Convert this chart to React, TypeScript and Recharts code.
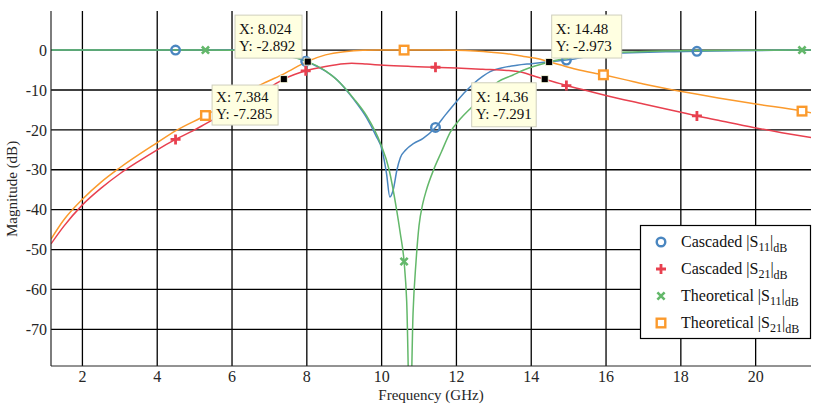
import React from 'react';
import { LineChart, Line, XAxis, YAxis, CartesianGrid, ReferenceDot } from 'recharts';

const FONT = '"Liberation Serif", "Times New Roman", serif';

// ---- axis ticks ----
const xTicks = [2, 4, 6, 8, 10, 12, 14, 16, 18, 20];
const yTicks = [0, -10, -20, -30, -40, -50, -60, -70];

// ---- Cascaded |S11| (dB) ----
const cascS11Freq = [1.16, 4.49, 6, 6.5, 7, 7.5, 7.97, 8.5, 8.8, 9.25, 9.6, 9.85, 10.01, 10.13, 10.22, 10.31, 10.41, 10.5, 10.65, 10.86, 11.1, 11.44, 11.7, 12.01, 12.25, 12.47, 12.7, 12.9, 13.2, 13.62, 14.0, 14.4, 14.94, 15.5, 16, 16.9, 17.6, 18.43, 19.5, 20.5, 21.48];
const cascS11Mag = [0, 0, 0, -0.1, -0.4, -1.3, -2.8, -5.3, -7.4, -12.3, -17, -21.5, -25, -30.9, -36.8, -35, -30, -27, -25, -23.4, -22.2, -19.4, -16.3, -12.8, -10.3, -8.3, -6.6, -5.4, -4.5, -3.8, -3.4, -3.0, -2.5, -1.6, -1.0, -0.6, -0.4, -0.3, -0.15, -0.05, 0];
const cascS11Marks = [4.49, 7.97, 11.44, 14.94, 18.43];

// ---- Cascaded |S21| (dB) ----
const cascS21Freq = [1.16, 1.5, 2, 2.5, 3, 3.5, 4, 4.49, 5, 5.29, 6, 6.5, 6.9, 7.384, 7.97, 8.5, 9, 9.2, 9.6, 10.06, 10.78, 11.44, 12, 12.7, 13.35, 13.8, 14.07, 14.36, 14.77, 14.94, 15.5, 15.97, 17, 18, 18.43, 19, 19.94, 20.7, 21.48];
const cascS21Mag = [-48.6, -44.2, -38.8, -34.6, -31, -27.9, -25, -22.4, -20, -18.5, -14.8, -12.2, -10, -7.285, -5.2, -4.1, -3.4, -3.3, -3.5, -3.8, -4.1, -4.3, -4.5, -4.8, -5.1, -5.7, -6.5, -7.291, -8.4, -8.9, -10.2, -11.3, -13.5, -15.6, -16.5, -17.6, -19.4, -20.7, -21.9];
const cascS21Marks = [4.49, 7.97, 11.44, 14.94, 18.43];

// ---- Theoretical |S11| (dB) ----
const theoS11Freq = [1.16, 5.29, 6, 6.5, 7, 7.57, 8.024, 8.5, 8.81, 9.25, 9.6, 9.97, 10.2, 10.4, 10.5, 10.6, 10.67, 10.76, 10.84, 10.92, 11.0, 11.1, 11.2, 11.39, 11.6, 11.84, 12.1, 12.42, 12.8, 13.1, 13.5, 13.8, 14.1, 14.48, 15.0, 15.4, 15.93, 16.7, 17.5, 18.5, 19.5, 21.24, 21.48];
const theoS11Mag = [0, 0, -0.05, -0.15, -0.5, -1.7, -2.892, -5.2, -7.5, -12.1, -16.5, -23.4, -30, -40, -46, -53, -63, -95, -66, -53, -44, -38.5, -35, -30, -25.5, -20.5, -17.3, -14.2, -10.5, -8.0, -6.3, -5.0, -4.0, -2.973, -2.0, -1.3, -0.8, -0.45, -0.25, -0.12, -0.05, 0, 0];
const theoS11Marks = [5.29, 10.6, 21.24];

// ---- Theoretical |S21| (dB) ----
const theoS21Freq = [1.16, 1.5, 2, 2.5, 3, 4, 4.5, 5.29, 6, 6.85, 7.4, 8.0, 8.5, 9, 9.5, 10, 10.6, 11.5, 12, 12.5, 13, 13.35, 13.8, 14.24, 14.5, 14.77, 15.2, 15.93, 16.5, 17, 18.02, 19, 20, 21.24, 21.48];
const theoS21Mag = [-47.4, -42.6, -37.4, -33.1, -29.5, -23.2, -20.2, -16.4, -12.6, -8.3, -5.9, -2.9, -1.2, -0.4, -0.05, 0, 0, 0, -0.05, -0.25, -0.6, -0.9, -1.6, -2.3, -3.0, -3.7, -4.8, -6.2, -7.4, -8.5, -10.4, -12.0, -13.5, -15.3, -15.7];
const theoS21Marks = [5.29, 10.6, 15.93, 21.24];

// ---- data tips ----
const tipX = [8.024, 7.384, 14.36, 14.48];
const tipY = [-2.892, -7.285, -7.291, -2.973];

// ---- legend labels ----
const legendNames = ['Cascaded', 'Cascaded', 'Theoretical', 'Theoretical'];
const legendSub = ['11', '21', '11', '21'];

const COLORS = { blue: '#4a86c0', red: '#e8404f', green: '#63b86a', orange: '#fb9a2c' };

const toData = (f: number[], v: number[]) => f.map((x, i) => ({ f: x, v: v[i] }));

function Marker({ kind, x, y, color }: { kind: string; x: number; y: number; color: string }) {
  if (kind === 'circle') return <circle cx={x} cy={y} r={4.3} fill="none" stroke={color} strokeWidth={2.4} />;
  if (kind === 'plus') return <path d={`M${x - 5},${y}H${x + 5}M${x},${y - 5}V${y + 5}`} stroke={color} strokeWidth={2.8} fill="none" />;
  if (kind === 'cross') return <path d={`M${x - 3.6},${y - 3.6}L${x + 3.6},${y + 3.6}M${x - 3.6},${y + 3.6}L${x + 3.6},${y - 3.6}`} stroke={color} strokeWidth={2.6} fill="none" />;
  return <rect x={x - 4.3} y={y - 4.3} width={8.6} height={8.6} fill="#fff" stroke={color} strokeWidth={2.4} />;
}

const makeDot = (marks: number[], kind: string, color: string) => (props: any) => {
  const { cx, cy, payload, index } = props;
  if (cx == null || cy == null || !marks.includes(payload.f)) return <g key={`d${index}`} />;
  return <g key={`d${index}`}><Marker kind={kind} x={cx} y={cy} color={color} /></g>;
};

// box placement for each tip (style only): left/top offsets from point, width, height, text line offsets
const tipBox = [
  { dx: -72.7, dy: -46.5, w: 67, h: 43, t1: 13.5, t2: 30.5 },
  { dx: -71.7, dy: 5.9, w: 66, h: 40, t1: 11.8, t2: 28.6 },
  { dx: -73, dy: 3.6, w: 64.5, h: 44, t1: 13.8, t2: 30.8 },
  { dx: 2.5, dy: -46.9, w: 70, h: 43, t1: 14, t2: 31 },
];

const txtStyle = { fontFamily: FONT };

const makeTip = (i: number) => (props: any) => {
  const { cx, cy } = props;
  const b = tipBox[i];
  const bx = cx + b.dx;
  const by = cy + b.dy;
  return (
    <g>
      <rect x={bx} y={by} width={b.w} height={b.h} fill="#ffffe1" stroke="#cfcfbd" strokeWidth={1} />
      <text x={bx + 4} y={by + b.t1} dy="0.35em" fontFamily={FONT} style={txtStyle} fontSize={15} fill="#111">{`X: ${tipX[i]}`}</text>
      <text x={bx + 4} y={by + b.t2} dy="0.35em" fontFamily={FONT} style={txtStyle} fontSize={15} fill="#111">{`Y: ${tipY[i]}`}</text>
      <rect x={cx - 3.5} y={cy - 3.5} width={7} height={7} fill="#000" stroke="#ffffe1" strokeWidth={0.8} />
    </g>
  );
};

const legendKinds = ['circle', 'plus', 'cross', 'square'];
const legendColors = [COLORS.blue, COLORS.red, COLORS.green, COLORS.orange];

export default function App() {
  const rowY = [242, 269, 296, 323];
  return (
    <div style={{ position: 'absolute', left: 0, top: 0, width: 816, height: 406, background: '#fff', fontFamily: FONT }}>
      <LineChart width={816} height={406} margin={{ top: 11, right: 5, bottom: 0, left: 0 }} style={{ fontFamily: FONT }}>
        <CartesianGrid stroke="#000" strokeWidth={1.3} horizontalValues={yTicks} verticalValues={xTicks} />
        <XAxis
          dataKey="f"
          type="number"
          domain={[1.16, 21.48]}
          ticks={xTicks}
          allowDataOverflow
          height={40}
          tickSize={0}
          tickMargin={5}
          axisLine={{ stroke: '#262626', strokeWidth: 1 }}
          tick={{ fontFamily: FONT, style: txtStyle, fontSize: 16, fill: '#262626' }}
        />
        <YAxis
          type="number"
          domain={[-79.2, 9.8]}
          ticks={yTicks}
          allowDataOverflow
          width={51}
          tickSize={0}
          tickMargin={4}
          axisLine={{ stroke: '#262626', strokeWidth: 1.2 }}
          tick={{ fontFamily: FONT, style: txtStyle, fontSize: 16, fill: '#262626' }}
        />
        <Line data={toData(cascS11Freq, cascS11Mag)} dataKey="v" type="monotone" stroke={COLORS.blue} strokeWidth={1.5} dot={makeDot(cascS11Marks, 'circle', COLORS.blue)} activeDot={false} isAnimationActive={false} />
        <Line data={toData(cascS21Freq, cascS21Mag)} dataKey="v" type="monotone" stroke={COLORS.red} strokeWidth={1.5} dot={makeDot(cascS21Marks, 'plus', COLORS.red)} activeDot={false} isAnimationActive={false} />
        <Line data={toData(theoS11Freq, theoS11Mag)} dataKey="v" type="monotone" stroke={COLORS.green} strokeWidth={1.5} dot={makeDot(theoS11Marks, 'cross', COLORS.green)} activeDot={false} isAnimationActive={false} />
        <Line data={toData(theoS21Freq, theoS21Mag)} dataKey="v" type="monotone" stroke={COLORS.orange} strokeWidth={1.5} dot={makeDot(theoS21Marks, 'square', COLORS.orange)} activeDot={false} isAnimationActive={false} />
        {tipX.map((x, i) => (
          <ReferenceDot key={`tip${i}`} x={x} y={tipY[i]} r={3} shape={makeTip(i)} ifOverflow="visible" />
        ))}
      </LineChart>
      <svg width={816} height={406} style={{ position: 'absolute', left: 0, top: 0, pointerEvents: 'none', fontFamily: FONT }}>
        <text x={431} y={397} textAnchor="middle" dominantBaseline="middle" style={txtStyle} fontSize={15} fill="#262626">Frequency (GHz)</text>
        <text x={14} y={189} textAnchor="middle" dominantBaseline="middle" style={txtStyle} fontSize={15} fill="#262626" transform="rotate(-90 14 189)">Magnitude (dB)</text>
        <rect x={640.5} y={225.5} width={170} height={113} fill="#fff" stroke="#000" strokeWidth={1.2} />
        {legendNames.map((n, i) => (
          <g key={`lg${i}`}>
            <Marker kind={legendKinds[i]} x={661} y={rowY[i]} color={legendColors[i]} />
            <text x={681} y={rowY[i] + 5} style={txtStyle} fontSize={16} fill="#111">
              {`${n} |S`}
              <tspan fontSize={12} dy={4}>{legendSub[i]}</tspan>
              <tspan fontSize={16} dy={-4}>|</tspan>
              <tspan fontSize={12} dy={5}>dB</tspan>
            </text>
          </g>
        ))}
      </svg>
    </div>
  );
}
